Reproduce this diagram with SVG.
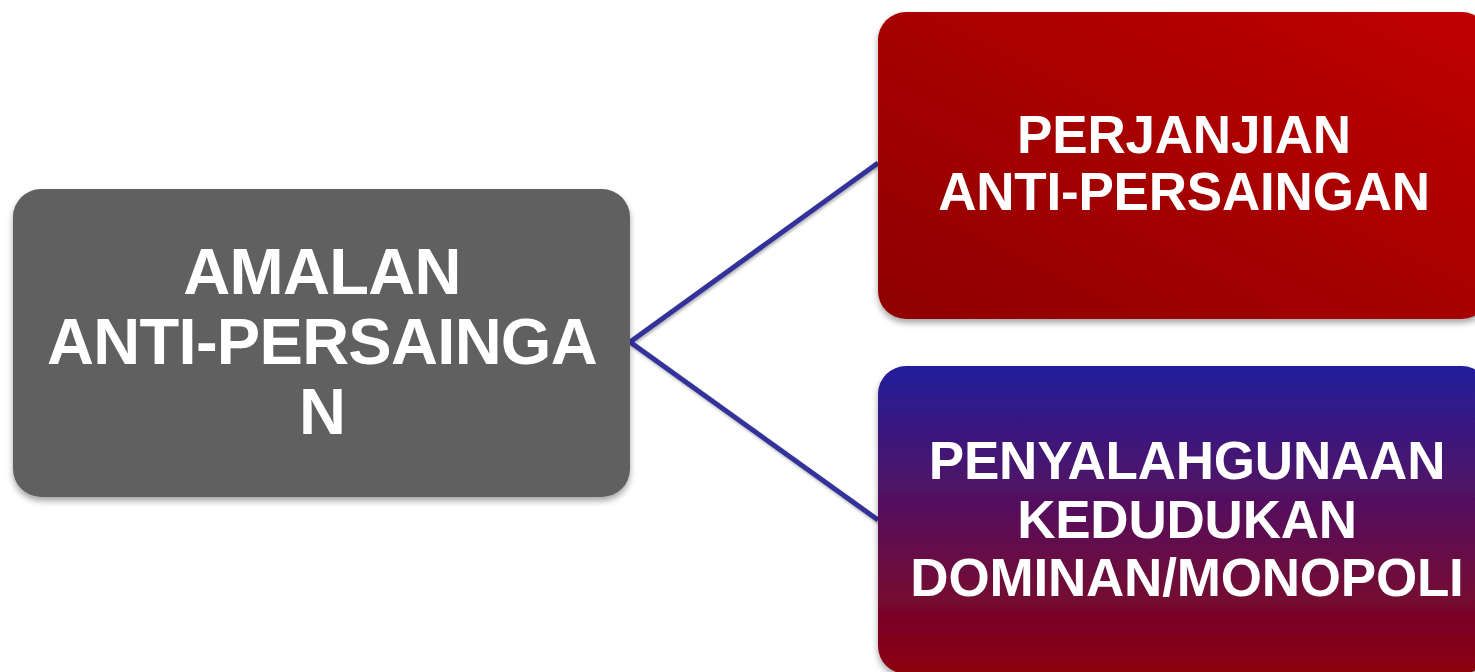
<svg xmlns="http://www.w3.org/2000/svg" width="1475" height="672" viewBox="0 0 1475 672">
  <defs>
    <linearGradient id="gRed" x1="0" y1="1" x2="1" y2="0">
      <stop offset="0" stop-color="#8E0000"/>
      <stop offset="1" stop-color="#C00000"/>
    </linearGradient>
    <linearGradient id="gBlue" x1="0" y1="0" x2="0" y2="1">
      <stop offset="0" stop-color="#221E9C"/>
      <stop offset="0.5" stop-color="#5B0F57"/>
      <stop offset="1" stop-color="#8C000C"/>
    </linearGradient>
    <filter id="shadow" x="-10%" y="-10%" width="120%" height="130%">
      <feDropShadow dx="0" dy="4" stdDeviation="3" flood-color="#000" flood-opacity="0.35"/>
    </filter>
    <filter id="lshadow" x="-10%" y="-10%" width="120%" height="120%">
      <feDropShadow dx="1" dy="2" stdDeviation="1.5" flood-color="#000" flood-opacity="0.3"/>
    </filter>
  </defs>
  <style>
    .lbl { font-family: "Liberation Sans", Arial, sans-serif; font-weight: bold; fill: #FFFFFF; text-anchor: middle; }
    .big { font-size: 65px; letter-spacing: -0.7px; }
    .med { font-size: 53px; letter-spacing: -0.2px; }
    .conn { stroke: #333399; stroke-width: 5; fill: none; }
  </style>
  <rect width="1475" height="672" fill="#FFFFFF"/>
  <g id="connectors" filter="url(#lshadow)">
    <line class="conn" x1="630" y1="342" x2="878" y2="163"/>
    <line class="conn" x1="630" y1="342" x2="878" y2="520"/>
  </g>
  <g id="node-amalan">
    <rect x="13" y="189" width="617" height="308" rx="28" fill="#606060" filter="url(#shadow)"/>
    <text class="lbl big" x="322" y="294">AMALAN</text>
    <text class="lbl big" x="322" y="364">ANTI-PERSAINGA</text>
    <text class="lbl big" x="322" y="434">N</text>
  </g>
  <g id="node-perjanjian">
    <rect x="878" y="12" width="612" height="307" rx="28" fill="url(#gRed)" filter="url(#shadow)"/>
    <text class="lbl med" x="1184" y="153">PERJANJIAN</text>
    <text class="lbl med" x="1184" y="210">ANTI-PERSAINGAN</text>
  </g>
  <g id="node-penyalahgunaan">
    <rect x="878" y="366" width="612" height="308" rx="28" fill="url(#gBlue)" filter="url(#shadow)"/>
    <text class="lbl med" x="1187" y="479">PENYALAHGUNAAN</text>
    <text class="lbl med" x="1187" y="538">KEDUDUKAN</text>
    <text class="lbl med" x="1187" y="596">DOMINAN/MONOPOLI</text>
  </g>
</svg>
